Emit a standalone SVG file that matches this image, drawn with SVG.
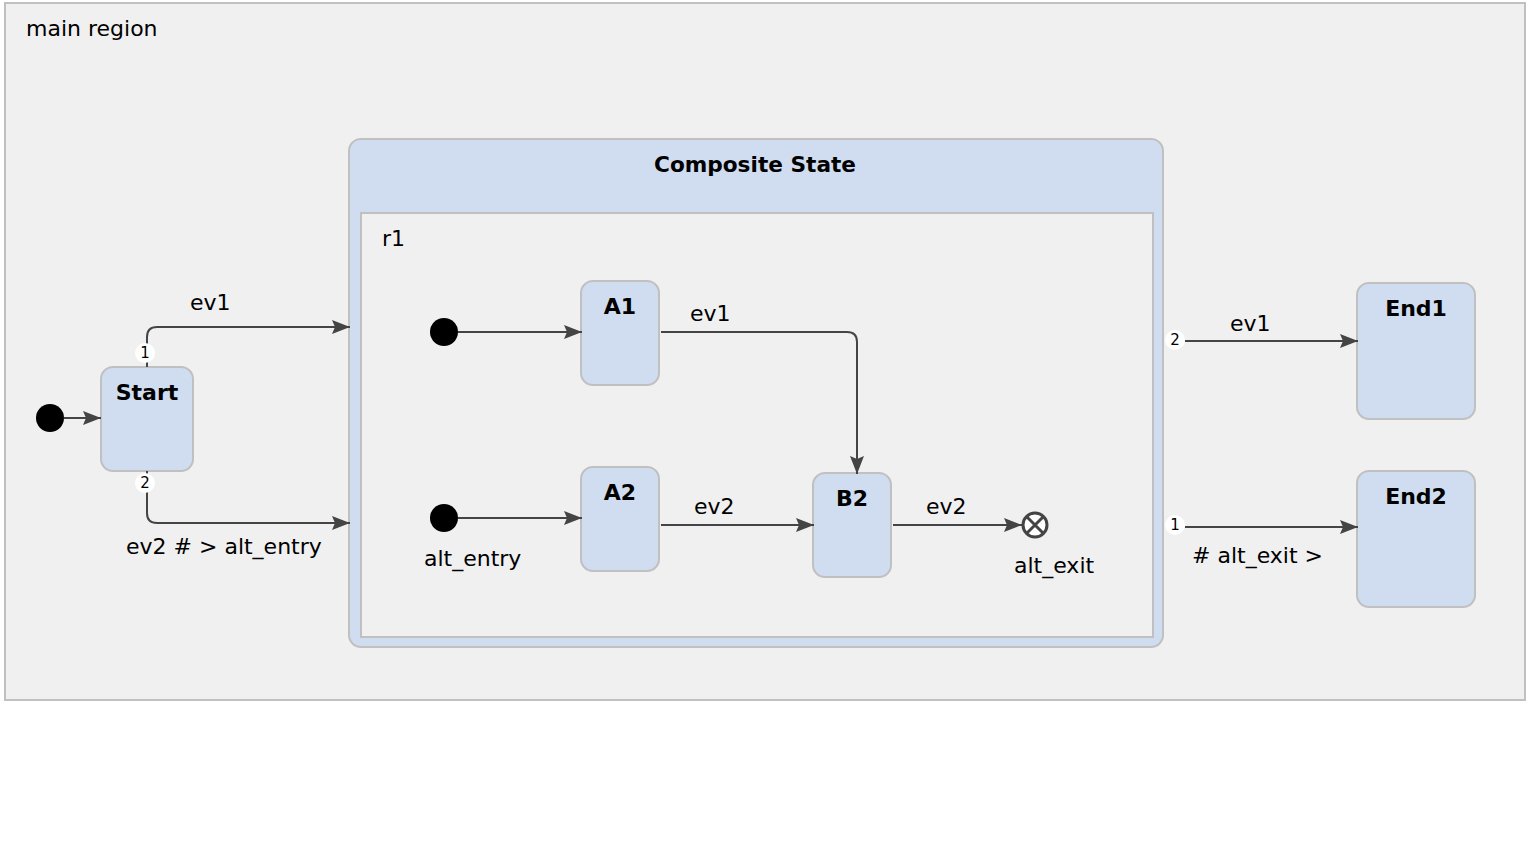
<svg xmlns="http://www.w3.org/2000/svg" width="1530" height="862" viewBox="0 0 1530 862">
<style>
text{font-family:"DejaVu Sans","Verdana",sans-serif;fill:#000}
.lbl{font-size:22px}
.title{font-size:22px;font-weight:bold;text-anchor:middle}
.state{fill:#d0ddf0;stroke:#c0c0c0;stroke-width:2}
.region{fill:#f0f0f0;stroke:#c0c0c0;stroke-width:2}
.edge{fill:none;stroke:#444;stroke-width:2}
.init{fill:#000}
.badge{fill:#fff;stroke:none}
.btxt{font-size:15px;text-anchor:middle}
</style>
<defs>
<marker id="arr" viewBox="0 0 18 14" refX="18" refY="7" markerWidth="18" markerHeight="14" markerUnits="userSpaceOnUse" orient="auto">
<path d="M0,0 L18,7 L0,14 L3,7 Z" fill="#444"/>
</marker>
</defs>
<rect x="0" y="0" width="1530" height="862" fill="#fff"/>
<g id="main-region">
<rect x="5" y="3" width="1520" height="697" fill="#f0f0f0" stroke="#c0c0c0" stroke-width="2"/>
<text class="lbl" x="26" y="36">main region</text>
</g>
<g id="composite">
<rect class="state" x="349" y="139" width="814" height="508" rx="12"/>
<text class="title" x="755" y="172" textLength="202" lengthAdjust="spacingAndGlyphs">Composite State</text>
<rect class="region" x="361" y="213" width="792" height="424"/>
<text class="lbl" x="382" y="246">r1</text>
</g>
<g id="init-main"><circle class="init" cx="50" cy="418" r="14"/></g>
<g id="start"><rect class="state" x="101" y="367" width="92" height="104" rx="12"/><text class="title" x="147" y="400">Start</text></g>
<g id="init-r1"><circle class="init" cx="444" cy="332" r="14"/></g>
<g id="alt-entry"><circle class="init" cx="444" cy="518" r="14"/><text class="lbl" x="424" y="566">alt_entry</text></g>
<g id="a1"><rect class="state" x="581" y="281" width="78" height="104" rx="12"/><text class="title" x="620" y="314">A1</text></g>
<g id="a2"><rect class="state" x="581" y="467" width="78" height="104" rx="12"/><text class="title" x="620" y="500">A2</text></g>
<g id="b2"><rect class="state" x="813" y="473" width="78" height="104" rx="12"/><text class="title" x="852" y="506">B2</text></g>
<g id="alt-exit"><circle cx="1035" cy="525" r="12" fill="#fff" stroke="#444" stroke-width="3"/><path d="M1027,517 L1043,533 M1043,517 L1027,533" stroke="#444" stroke-width="3"/><text class="lbl" x="1014" y="573">alt_exit</text></g>
<g id="end1"><rect class="state" x="1357" y="283" width="118" height="136" rx="12"/><text class="title" x="1416" y="316">End1</text></g>
<g id="end2"><rect class="state" x="1357" y="471" width="118" height="136" rx="12"/><text class="title" x="1416" y="504">End2</text></g>
<g id="connectors">
<path class="edge" d="M64,418 L101,418" marker-end="url(#arr)"/>
<path class="edge" d="M147,367 L147,337 Q147,327 157,327 L350,327" marker-end="url(#arr)"/>
<text class="lbl" x="190" y="310">ev1</text>
<circle class="badge" cx="145" cy="353" r="10"/><text class="btxt" x="145" y="358">1</text>
<path class="edge" d="M147,471 L147,513 Q147,523 157,523 L350,523" marker-end="url(#arr)"/>
<circle class="badge" cx="145" cy="483" r="10"/><text class="btxt" x="145" y="488">2</text>
<text class="lbl" x="126" y="554">ev2 # &gt; alt_entry</text>
<path class="edge" d="M458,332 L582,332" marker-end="url(#arr)"/>
<path class="edge" d="M458,518 L582,518" marker-end="url(#arr)"/>
<path class="edge" d="M661,332 L847,332 Q857,332 857,342 L857,474" marker-end="url(#arr)"/>
<text class="lbl" x="690" y="321">ev1</text>
<path class="edge" d="M661,525 L814,525" marker-end="url(#arr)"/>
<text class="lbl" x="694" y="514">ev2</text>
<path class="edge" d="M893,525 L1022,525" marker-end="url(#arr)"/>
<text class="lbl" x="926" y="514">ev2</text>
<path class="edge" d="M1185,341 L1358,341" marker-end="url(#arr)"/>
<circle class="badge" cx="1175" cy="340" r="10"/><text class="btxt" x="1175" y="345">2</text>
<text class="lbl" x="1230" y="331">ev1</text>
<path class="edge" d="M1185,527 L1358,527" marker-end="url(#arr)"/>
<circle class="badge" cx="1175" cy="525" r="10"/><text class="btxt" x="1175" y="530">1</text>
<text class="lbl" x="1192" y="563"># alt_exit &gt;</text>
</g>
</svg>
